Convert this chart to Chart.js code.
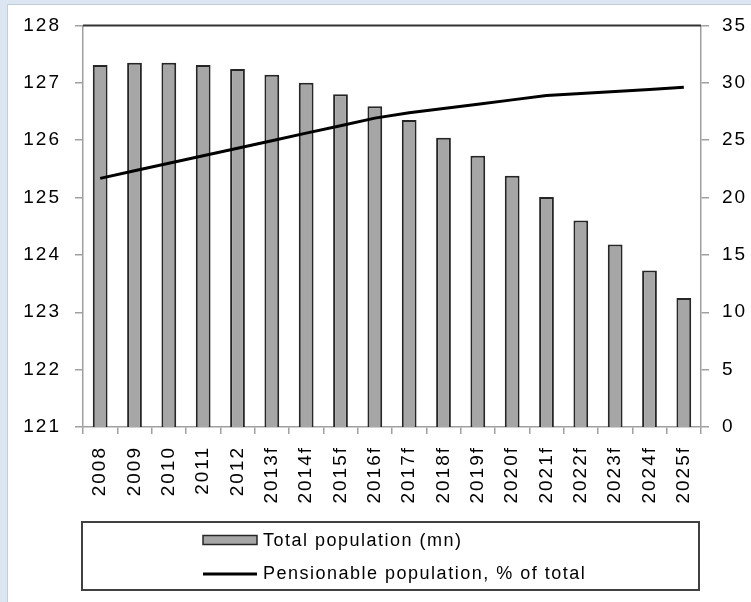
<!DOCTYPE html>
<html>
<head>
<meta charset="utf-8">
<script src="https://cdn.jsdelivr.net/npm/chart.js@4"></script>
<style>
  html, body { margin: 0; padding: 0; background: #ffffff; }
  canvas { display: block; }
</style>
</head>
<body>
<canvas id="chart" width="751" height="602"></canvas>
<script>
// Years (f = forecast)
const categories = ['2008', '2009', '2010', '2011', '2012', '2013f', '2014f', '2015f', '2016f',
  '2017f', '2018f', '2019f', '2020f', '2021f', '2022f', '2023f', '2024f', '2025f'];

// Total population, millions (left axis)
const totalPopulation = [127.31, 127.35, 127.35, 127.31, 127.24, 127.14, 127.00, 126.80, 126.59,
  126.35, 126.04, 125.73, 125.38, 125.01, 124.60, 124.18, 123.73, 123.25];

// Pensionable population, % of total (right axis)
const pensionableShare = [21.67, 22.33, 22.99, 23.64, 24.30, 24.95, 25.61, 26.26, 26.92,
  27.39, 27.75, 28.12, 28.51, 28.90, 29.07, 29.24, 29.42, 29.61];

// Axis ranges and tick steps
const leftAxisRange = [121, 128];
const leftAxisStep = 1;
const rightAxisRange = [0, 35];
const rightAxisStep = 5;

const seriesLabels = ['Total population (mn)', 'Pensionable population, % of total'];

const FONT = '"Liberation Sans", Arial, sans-serif';
const BAR_FILL = '#a6a6a6';
const BAR_EDGE = '#262626';
const AXIS_GREY = '#a0a0a0';

// Light blue frame strip and white panel behind the chart
const backdrop = {
  id: 'backdrop',
  beforeDraw(chart) {
    const ctx = chart.ctx;
    ctx.save();
    ctx.fillStyle = '#dce6f2';
    ctx.fillRect(0, 0, chart.width, chart.height);
    ctx.fillStyle = '#ffffff';
    ctx.fillRect(8, 5, chart.width - 8, chart.height - 5);
    ctx.strokeStyle = '#c3ccd8';
    ctx.lineWidth = 1;
    ctx.beginPath();
    ctx.moveTo(7.5, chart.height);
    ctx.lineTo(7.5, 4.5);
    ctx.lineTo(chart.width, 4.5);
    ctx.stroke();
    ctx.restore();
    // wide spacing of the axis label text
    ctx.letterSpacing = '2px';
  }
};

// Dark rule along the top of the plot area
const topRule = {
  id: 'topRule',
  afterDatasetsDraw(chart) {
    const { ctx, chartArea } = chart;
    ctx.save();
    ctx.strokeStyle = '#333333';
    ctx.lineWidth = 2;
    ctx.beginPath();
    ctx.moveTo(chartArea.left, chartArea.top);
    ctx.lineTo(chartArea.right, chartArea.top);
    ctx.stroke();
    ctx.restore();
  }
};

// Boxed legend below the axis labels: bars on the first row, line on the second
const boxedLegend = {
  id: 'boxedLegend',
  afterDraw(chart) {
    const ctx = chart.ctx;
    const area = chart.chartArea;
    const box = { x: area.left - 1, y: 522, w: area.right - area.left - 1, h: 68 };
    ctx.save();
    ctx.letterSpacing = '1.5px';
    ctx.strokeStyle = '#404040';
    ctx.lineWidth = 2;
    ctx.strokeRect(box.x, box.y, box.w, box.h);

    const swatchX = 203, swatchW = 54, textX = 263;
    ctx.font = '18px ' + FONT;
    ctx.textBaseline = 'middle';
    ctx.textAlign = 'left';

    const barSet = chart.data.datasets.find(d => d.type === 'bar');
    const lineSet = chart.data.datasets.find(d => d.type === 'line');

    let y = 540;
    ctx.fillStyle = barSet.backgroundColor;
    ctx.fillRect(swatchX, y - 4.5, swatchW, 9);
    ctx.strokeStyle = barSet.borderColor;
    ctx.lineWidth = 1.5;
    ctx.strokeRect(swatchX, y - 4.5, swatchW, 9);
    ctx.fillStyle = '#000000';
    ctx.fillText(barSet.label, textX, y + 1);

    y = 574;
    ctx.strokeStyle = lineSet.borderColor;
    ctx.lineWidth = 3;
    ctx.beginPath();
    ctx.moveTo(swatchX, y);
    ctx.lineTo(swatchX + swatchW, y);
    ctx.stroke();
    ctx.fillStyle = '#000000';
    ctx.fillText(lineSet.label, textX, y);
    ctx.restore();
  }
};

new Chart(document.getElementById('chart'), {
  data: {
    labels: categories,
    datasets: [
      {
        type: 'line',
        label: seriesLabels[1],
        data: pensionableShare,
        yAxisID: 'yRight',
        borderColor: '#000000',
        borderWidth: 3,
        pointRadius: 0,
        tension: 0,
        order: 0
      },
      {
        type: 'bar',
        label: seriesLabels[0],
        data: totalPopulation,
        yAxisID: 'yLeft',
        backgroundColor: BAR_FILL,
        borderColor: BAR_EDGE,
        borderWidth: 2,
        categoryPercentage: 1,
        barPercentage: 0.43,
        order: 1
      }
    ]
  },
  options: {
    responsive: false,
    animation: false,
    devicePixelRatio: 1,
    layout: { padding: { top: 20, left: 0, right: 0, bottom: 0 } },
    plugins: {
      legend: { display: false },
      title: { display: false },
      tooltip: { enabled: false }
    },
    scales: {
      x: {
        type: 'category',
        offset: true,
        grid: { offset: true, drawOnChartArea: false, tickLength: 7, color: AXIS_GREY, lineWidth: 1.5 },
        border: { color: AXIS_GREY, width: 1.5 },
        ticks: {
          autoSkip: false,
          maxRotation: 90,
          minRotation: 90,
          padding: 12,
          color: '#000000',
          font: { family: FONT, size: 19 }
        },
        afterFit(scale) { scale.height = 175; }
      },
      yLeft: {
        type: 'linear',
        position: 'left',
        min: leftAxisRange[0],
        max: leftAxisRange[1],
        ticks: {
          stepSize: leftAxisStep,
          padding: 14,
          color: '#000000',
          font: { family: FONT, size: 19 }
        },
        grid: { drawOnChartArea: false, tickLength: 8, color: AXIS_GREY, lineWidth: 1.5 },
        border: { color: AXIS_GREY, width: 1.5 },
        afterFit(scale) { scale.width = 83; }
      },
      yRight: {
        type: 'linear',
        position: 'right',
        min: rightAxisRange[0],
        max: rightAxisRange[1],
        ticks: {
          stepSize: rightAxisStep,
          padding: 13,
          color: '#000000',
          font: { family: FONT, size: 19 }
        },
        grid: { drawOnChartArea: false, tickLength: 8, color: AXIS_GREY, lineWidth: 1.5 },
        border: { color: AXIS_GREY, width: 1.5 },
        afterFit(scale) { scale.width = 50; }
      }
    }
  },
  plugins: [backdrop, topRule, boxedLegend]
});
</script>
</body>
</html>
